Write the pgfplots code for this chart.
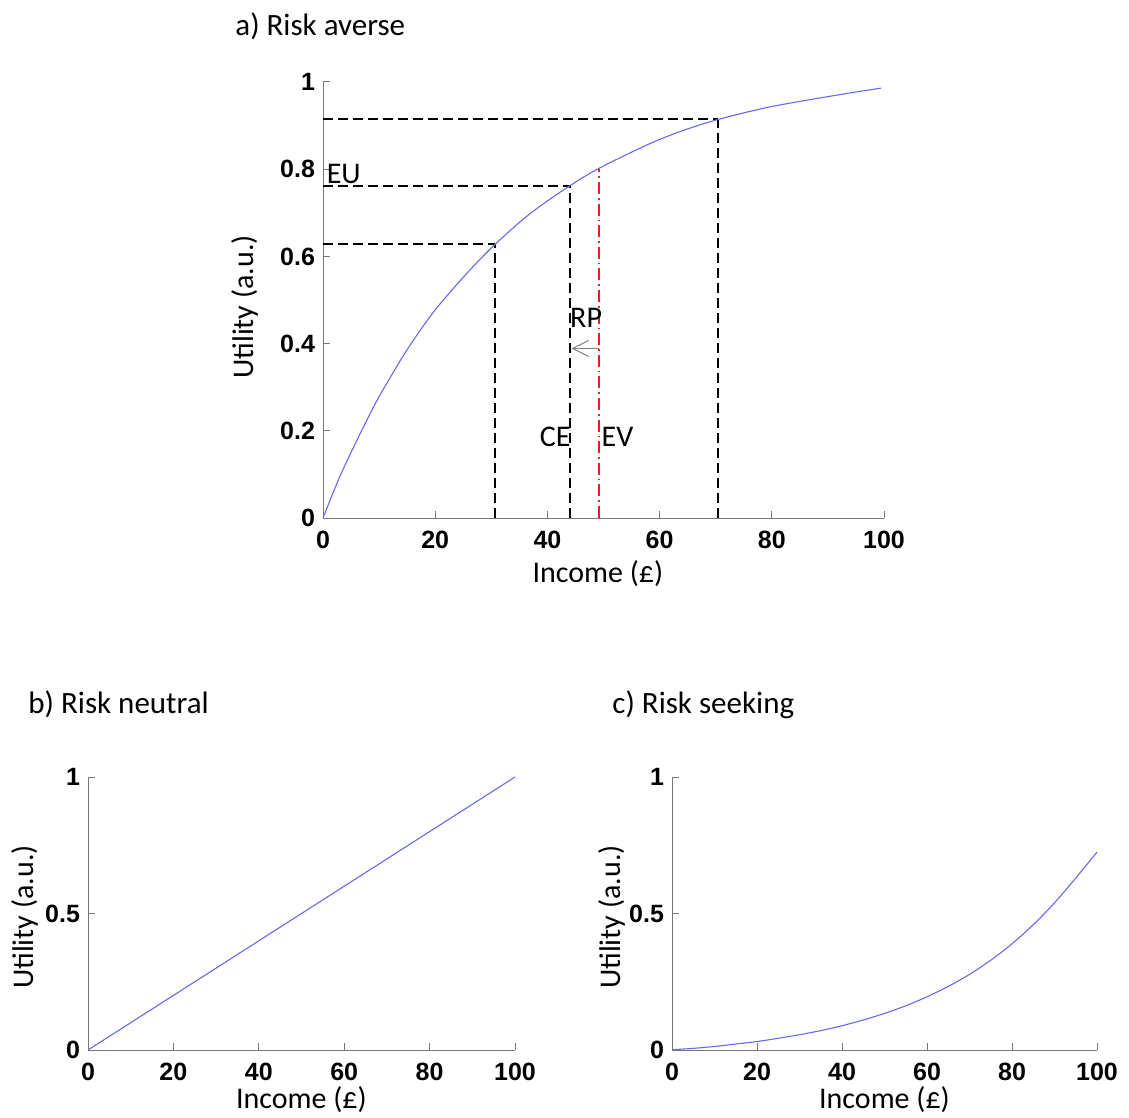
\documentclass[border=0pt]{standalone}
\usepackage{fontspec}
\setmainfont{Carlito}
\newfontfamily\tickfont{Liberation Sans}
\usepackage{pgfplots}
\pgfplotsset{compat=1.18}
\usetikzlibrary{arrows.meta}
\definecolor{curveblue}{RGB}{105,105,235}
\definecolor{axgray}{RGB}{120,120,120}
\definecolor{evred}{RGB}{235,30,30}
\pgfplotsset{
  myaxis/.style={
    scale only axis, axis lines*=left,
    xmin=0, xmax=100, ymin=0, ymax=1,
    axis line style={axgray, line width=0.5pt},
    tick style={axgray, line width=0.5pt},
    major tick length=3.5pt, tick align=inside,
    xtick={0,20,...,100},
    /pgf/number format/assume math mode=true,
    ticklabel style={font=\tickfont\bfseries\fontsize{12.5}{14}\selectfont, text=black},
    xticklabel style={yshift=-3pt},
    yticklabel style={xshift=-0.5pt},
    label style={font=\fontsize{15}{18}\selectfont},
    clip=false,
  },
  curve/.style={curveblue, line width=0.55pt, no marks, smooth},
  blkdash/.style={black, line width=1pt, dash pattern=on 5pt off 2.5pt, no marks},
}
\pgfplotstableread{
x u
0 0
3 0.095
6.3 0.185
9.3 0.262
11.7 0.316
14.3 0.372
17.3 0.430
20.6 0.487
25.7 0.562
30.7 0.628
37 0.699
44 0.762
49.2 0.802
57.8 0.856
64 0.888
70.4 0.914
78.6 0.940
85.2 0.956
93.5 0.974
99.5 0.986
}\averse
\pgfplotstableread{
x u
0 0.001
5 0.006
10 0.013
15 0.022
20 0.031
25 0.043
30 0.056
35 0.071
40 0.089
45 0.110
50 0.134
55 0.162
60 0.195
65 0.233
70 0.277
75 0.329
80 0.389
85 0.459
90 0.539
95 0.630
100 0.725
}\seeking
\begin{document}
\begin{tikzpicture}
\useasboundingbox (0,0) rectangle (564.5pt,-559pt);
% titles
\node[anchor=base west, inner sep=0, font=\fontsize{15.5}{18}\selectfont] at (117.5pt,-18pt) {a) Risk averse};
\node[anchor=base west, inner sep=0, font=\fontsize{15.5}{18}\selectfont] at (14pt,-356.5pt) {b) Risk neutral};
\node[anchor=base west, inner sep=0, font=\fontsize{15.5}{18}\selectfont] at (306pt,-356.5pt) {c) Risk seeking};
% a) risk averse
\begin{axis}[myaxis, at={(161.5pt,-259pt)}, anchor=south west,
  width=280.5pt, height=218pt,
  ytick={0,0.2,...,1},
  yticklabels={0,0.2,0.4,0.6,0.8,1},
  xlabel={Income (£)}, ylabel={Utility (a.u.)},
  xlabel style={at={(axis description cs:0.49,-0.128)}, anchor=center},
  ylabel style={at={(axis description cs:-0.139,0.484)}, anchor=center},
]
\addplot[blkdash] coordinates {(0,0.628) (30.7,0.628)};
\addplot[blkdash] coordinates {(30.7,0) (30.7,0.628)};
\addplot[blkdash] coordinates {(0,0.762) (44.1,0.762)};
\addplot[blkdash] coordinates {(44.1,0) (44.1,0.762)};
\addplot[blkdash] coordinates {(0,0.914) (70.4,0.914)};
\addplot[blkdash] coordinates {(70.4,0) (70.4,0.914)};
\addplot[evred, line width=1pt, dash pattern=on 6pt off 2pt on 0.8pt off 2pt, no marks] coordinates {(49.2,0) (49.2,0.800)};
\addplot[curve] table[x=x,y=u] {\averse};
\addplot[gray, line width=0.5pt, no marks, -{Straight Barb[length=8pt,width=8pt]}] coordinates {(49.2,0.389) (44.3,0.389)};
\node[anchor=west, inner sep=0, font=\fontsize{15}{18}\selectfont] at (axis cs:0.6,0.79) {EU};
\node[anchor=center, inner sep=0, font=\fontsize{15}{18}\selectfont] at (axis cs:46.9,0.46) {RP};
\node[anchor=east, inner sep=0, font=\fontsize{15}{18}\selectfont] at (axis cs:44.2,0.186) {CE};
\node[anchor=west, inner sep=0, font=\fontsize{15}{18}\selectfont] at (axis cs:49.6,0.186) {EV};
\end{axis}
% b) risk neutral
\begin{axis}[myaxis, at={(44pt,-525pt)}, anchor=south west,
  width=213.5pt, height=136.5pt,
  ytick={0,0.5,1},
  xlabel={Income (£)}, ylabel={Utility (a.u.)},
  xlabel style={at={(axis description cs:0.5,-0.183)}, anchor=center},
  ylabel style={at={(axis description cs:-0.1475,0.487)}, anchor=center},
]
\addplot[curveblue, line width=0.55pt, no marks] coordinates {(0,0) (100,1)};
\end{axis}
% c) risk seeking
\begin{axis}[myaxis, at={(336pt,-525pt)}, anchor=south west,
  width=212.5pt, height=136.5pt,
  ytick={0,0.5,1},
  xlabel={Income (£)}, ylabel={Utility (a.u.)},
  xlabel style={at={(axis description cs:0.5,-0.183)}, anchor=center},
  ylabel style={at={(axis description cs:-0.141,0.487)}, anchor=center},
]
\addplot[curve] table[x=x,y=u] {\seeking};
\end{axis}
\end{tikzpicture}
\end{document}
